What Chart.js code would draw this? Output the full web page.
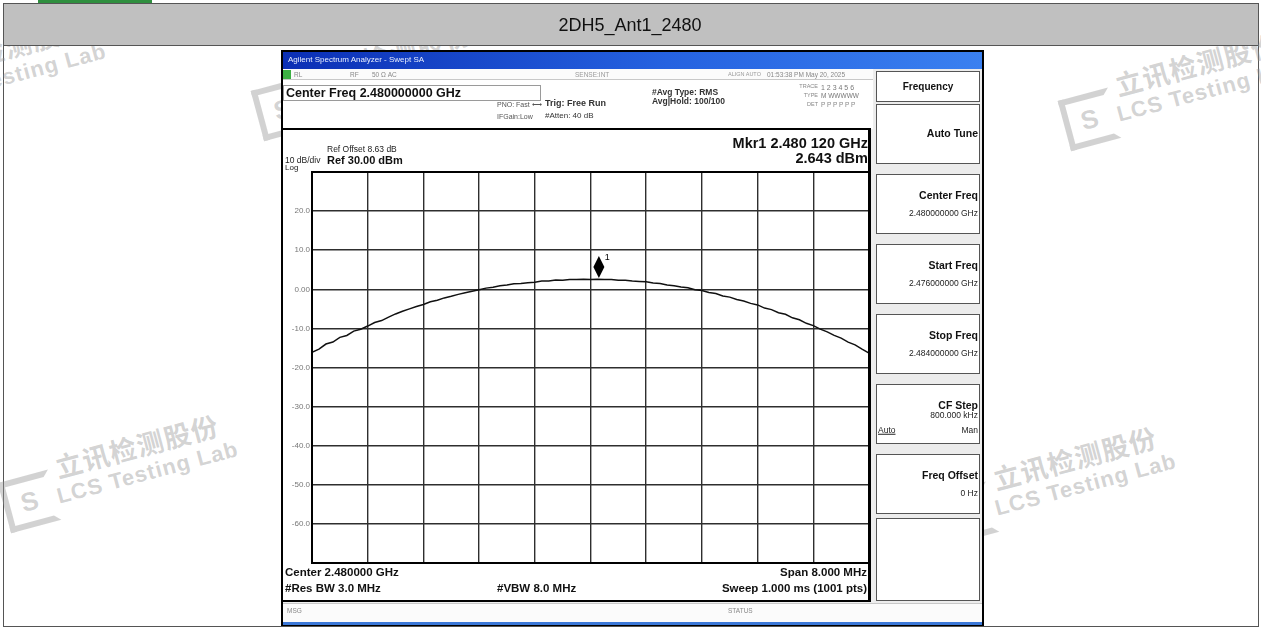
<!DOCTYPE html>
<html>
<head>
<meta charset="utf-8">
<script src="https://cdn.jsdelivr.net/npm/chart.js@4.4.0/dist/chart.umd.min.js"></script>
<style>
body { margin:0; background:#fff; font-family:"Liberation Sans", Arial, sans-serif; }
#page { position:relative; width:1261px; height:630px; overflow:hidden; background:#fff; }
.box { position:absolute; box-sizing:border-box; }
.t { position:absolute; white-space:nowrap; line-height:1; color:#111; }
.layer { position:absolute; left:0; top:0; width:1261px; height:630px; }
.wm { position:absolute; transform-origin:0 0; transform:rotate(-15deg); color:rgba(150,150,150,0.42); font-weight:bold; white-space:nowrap; }
.wm .l1 { position:absolute; left:0; top:0; font-family:"Noto Sans CJK SC", sans-serif; font-size:27px; line-height:1; letter-spacing:1px; }
.wm .l2 { position:absolute; left:-6px; top:32px; font-size:22px; line-height:1; letter-spacing:1px; }
.wm .logo { position:absolute; left:-60px; top:14px; width:40px; height:40px; border:6px solid rgba(150,150,150,0.42); border-right-color:transparent; font-size:26px; line-height:40px; text-align:center; }
</style>
</head>
<body>
<div id="page">
  <div class="box" style="left:38px;top:0;width:114px;height:3px;background:#2f8f3f;"></div>
  <div class="box" style="left:3px;top:3px;width:1256px;height:624px;border:1px solid #555;"></div>

  <div class="layer" id="wmLayer"></div>

  <div class="layer" id="saLayer">
    <div class="box" style="left:281px;top:50px;width:703px;height:576px;background:#000;"></div>
    <div class="box" style="left:283px;top:52px;width:699px;height:17px;background:linear-gradient(to right,#0b2fb5,#2562e0 55%,#3a80f0);"></div>
    <div class="box" style="left:283px;top:69px;width:699px;height:554px;background:#eeeeee;"></div>
    <div class="box" style="left:283px;top:69px;width:590px;height:11px;background:#fbfbfb;border-bottom:1px solid #c8c8c8;"></div>
    <div class="box" style="left:283px;top:70px;width:8px;height:9px;background:#3cb043;"></div>
    <div class="box" style="left:283px;top:80px;width:590px;height:49px;background:#fff;"></div>
    <div class="box" style="left:283px;top:85px;width:258px;height:16px;border:1px solid #9a9a9a;background:#fff;"></div>
    <div class="box" style="left:283px;top:128px;width:588px;height:45px;background:#fff;border-top:2px solid #000;border-right:3px solid #000;"></div>
    <div class="box" style="left:283px;top:172px;width:588px;height:392px;background:#fff;border-right:3px solid #000;"></div>
    <div class="box" style="left:283px;top:563px;width:588px;height:39px;background:#fff;border-right:3px solid #000;border-bottom:2px solid #000;"></div>
    <div class="box" style="left:283px;top:603px;width:699px;height:19px;background:#fbfbfb;border-top:1px solid #c8c8c8;"></div>
    <div class="box" style="left:283px;top:622px;width:699px;height:3px;background:#3b78d8;"></div>
    <div class="box" style="left:874px;top:69px;width:108px;height:534px;background:#ececec;"></div>
    <canvas id="trace" width="586" height="407" style="position:absolute;left:283px;top:164px;width:586px;height:407px;"></canvas>
  </div>

  <div class="layer" id="textLayer"></div>

  <div class="box" style="left:4px;top:4px;width:1254px;height:42px;background:#c0c0c0;border-bottom:1px solid #555;"></div>
  <div class="t" style="left:630px;top:25px;transform:translate(-50%,-50%);font-size:18px;">2DH5_Ant1_2480</div>
</div>

<script>
// sweep 2.476 - 2.484 GHz, 0.1 MHz steps
const freqGHz = [
  2.4760, 2.4761, 2.4762, 2.4763, 2.4764, 2.4765, 2.4766, 2.4767, 2.4768, 2.4769,
  2.4770, 2.4771, 2.4772, 2.4773, 2.4774, 2.4775, 2.4776, 2.4777, 2.4778, 2.4779,
  2.4780, 2.4781, 2.4782, 2.4783, 2.4784, 2.4785, 2.4786, 2.4787, 2.4788, 2.4789,
  2.4790, 2.4791, 2.4792, 2.4793, 2.4794, 2.4795, 2.4796, 2.4797, 2.4798, 2.4799,
  2.4800,
  2.4801, 2.4802, 2.4803, 2.4804, 2.4805, 2.4806, 2.4807, 2.4808, 2.4809, 2.4810,
  2.4811, 2.4812, 2.4813, 2.4814, 2.4815, 2.4816, 2.4817, 2.4818, 2.4819, 2.4820,
  2.4821, 2.4822, 2.4823, 2.4824, 2.4825, 2.4826, 2.4827, 2.4828, 2.4829, 2.4830,
  2.4831, 2.4832, 2.4833, 2.4834, 2.4835, 2.4836, 2.4837, 2.4838, 2.4839, 2.4840
];
const levelDbm = [
  -16.1, -15.3, -14.0, -13.5, -12.3, -11.8, -10.7, -10.2, -9.4, -8.5,
  -8.0, -7.1, -6.3, -5.6, -5.0, -4.4, -3.9, -3.2, -2.8, -2.2,
  -1.8, -1.3, -0.9, -0.5, -0.1, 0.3, 0.5, 0.9, 1.1, 1.4,
  1.5, 1.7, 1.8, 2.1, 2.1, 2.4, 2.3, 2.5, 2.5, 2.6,
  2.5,
  2.6, 2.5, 2.5, 2.3, 2.3, 2.1, 2.0, 1.9, 1.6, 1.5,
  1.1, 0.9, 0.6, 0.4, -0.1, -0.3, -0.8, -1.1, -1.7, -2.0,
  -2.6, -3.0, -3.6, -4.0, -4.8, -5.2, -6.0, -6.4, -7.3, -7.8,
  -8.7, -9.3, -10.2, -10.9, -11.8, -12.5, -13.5, -14.2, -15.3, -16.3
];
const markerFreqGHz = 2.48012;
const markerDbm = 2.643;

const startGHz = 2.476;
const stopGHz = 2.484;
const xGridGHz = [2.4760, 2.4768, 2.4776, 2.4784, 2.4792, 2.4800, 2.4808, 2.4816, 2.4824, 2.4832, 2.4840];
const yGridDbm = [30, 20, 10, 0, -10, -20, -30, -40, -50, -60, -70];
const yTickLabels = ['', '20.0', '10.0', '0.00', '-10.0', '-20.0', '-30.0', '-40.0', '-50.0', '-60.0', ''];

// marker 1 diamond sitting on the trace
const markerPlugin = {
  id: 'marker1',
  afterDatasetsDraw(chart) {
    const c = chart.ctx;
    const x = chart.scales.x.getPixelForValue(markerFreqGHz);
    const y = chart.scales.y.getPixelForValue(markerDbm) - 1;
    c.save();
    c.fillStyle = '#000';
    c.beginPath();
    c.moveTo(x, y);
    c.lineTo(x - 5.5, y - 11);
    c.lineTo(x, y - 22);
    c.lineTo(x + 5.5, y - 11);
    c.closePath();
    c.fill();
    c.font = '9px "Liberation Sans", Arial';
    c.fillText('1', x + 6, y - 18);
    c.restore();
  }
};

const framePlugin = {
  id: 'frame',
  afterDraw(chart) {
    const a = chart.chartArea;
    const c = chart.ctx;
    c.save();
    c.strokeStyle = '#000';
    c.lineWidth = 2;
    c.strokeRect(a.left, a.top, a.right - a.left, a.bottom - a.top);
    c.restore();
  }
};

const ctx = document.getElementById('trace').getContext('2d');
const traceChart = new Chart(ctx, {
  type: 'line',
  data: {
    datasets: [{
      data: freqGHz.map((f, i) => ({ x: f, y: levelDbm[i] })),
      borderColor: '#111',
      borderWidth: 1.5,
      pointRadius: 0,
      tension: 0
    }]
  },
  options: {
    responsive: false,
    animation: false,
    events: [],
    layout: { padding: { top: 8, bottom: 8, left: 0, right: 0 } },
    plugins: { legend: { display: false }, tooltip: { enabled: false } },
    scales: {
      x: {
        type: 'linear',
        min: startGHz,
        max: stopGHz,
        afterBuildTicks: s => { s.ticks = xGridGHz.map(v => ({ value: v })); },
        afterFit: s => { s.height = 0; },
        ticks: { display: false },
        grid: { color: '#2e2e2e', lineWidth: 1.4, drawTicks: false },
        border: { color: '#000', width: 2 }
      },
      y: {
        min: -70,
        max: 30,
        afterBuildTicks: s => { s.ticks = yGridDbm.map(v => ({ value: v })); },
        afterFit: s => { s.width = 29; },
        ticks: {
          callback: (v, i) => yTickLabels[yGridDbm.indexOf(v)],
          font: { size: 8, family: '"Liberation Sans", Arial' },
          color: '#777',
          padding: 2
        },
        grid: { color: '#2e2e2e', lineWidth: 1.4, drawTicks: false },
        border: { color: '#000', width: 2 }
      }
    }
  },
  plugins: [markerPlugin, framePlugin]
});

// text on the analyzer screen
var textLayer = document.getElementById('textLayer');
function put(parent, txt, x, y, size, opts) {
  opts = opts || {};
  var el = document.createElement('div');
  el.className = 't';
  el.textContent = txt;
  el.style.fontSize = size + 'px';
  el.style.left = x + 'px';
  el.style.top = y + 'px';
  if (opts.align === 'right') el.style.transform = 'translate(-100%,-50%)';
  else if (opts.align === 'center') el.style.transform = 'translate(-50%,-50%)';
  else el.style.transform = 'translateY(-50%)';
  if (opts.bold) el.style.fontWeight = 'bold';
  if (opts.color) el.style.color = opts.color;
  if (opts.under) el.style.textDecoration = 'underline';
  parent.appendChild(el);
  return el;
}

put(textLayer, 'Agilent Spectrum Analyzer - Swept SA', 288, 60, 8, { color: '#e8eeff' });
put(textLayer, 'RL', 294, 74.5, 6.5, { color: '#888' });
put(textLayer, 'RF', 350, 74.5, 6.5, { color: '#888' });
put(textLayer, '50 Ω  AC', 372, 74.5, 6.5, { color: '#888' });
put(textLayer, 'SENSE:INT', 575, 74.5, 6.5, { color: '#999' });
put(textLayer, 'ALIGN AUTO', 728, 74.5, 5.5, { color: '#999' });
put(textLayer, '01:53:38 PM May 20, 2025', 767, 74.5, 6.5, { color: '#888' });

put(textLayer, 'Center Freq 2.480000000 GHz', 286, 93, 12.5, { bold: true });
put(textLayer, 'PNO: Fast  ⟷', 497, 104, 7, { color: '#555' });
put(textLayer, 'IFGain:Low', 497, 116, 7, { color: '#555' });
put(textLayer, 'Trig: Free Run', 545, 103, 9, { bold: true, color: '#333' });
put(textLayer, '#Atten: 40 dB', 545, 116, 8, { color: '#333' });
put(textLayer, '#Avg Type: RMS', 652, 92, 8.5, { bold: true, color: '#333' });
put(textLayer, 'Avg|Hold: 100/100', 652, 101, 8.5, { bold: true, color: '#333' });
put(textLayer, 'TRACE', 818, 87, 5.5, { align: 'right', color: '#888' });
put(textLayer, '1 2 3 4 5 6', 821, 87, 7, { color: '#777' });
put(textLayer, 'TYPE', 818, 96, 5.5, { align: 'right', color: '#888' });
put(textLayer, 'M WWWWW', 821, 96, 6.5, { color: '#777' });
put(textLayer, 'DET', 818, 105, 5.5, { align: 'right', color: '#888' });
put(textLayer, 'P P P P P P', 821, 105, 6.5, { color: '#888' });

put(textLayer, 'Ref Offset 8.63 dB', 327, 149, 8.5, { color: '#222' });
put(textLayer, '10 dB/div', 285, 160, 8.5, { color: '#222' });
put(textLayer, 'Ref 30.00 dBm', 327, 160, 11, { bold: true });
put(textLayer, 'Log', 285, 168, 8, { color: '#222' });
put(textLayer, 'Mkr1 2.480 120 GHz', 868, 143, 14.5, { align: 'right', bold: true });
put(textLayer, '2.643 dBm', 868, 158, 14.5, { align: 'right', bold: true });

put(textLayer, 'Center 2.480000 GHz', 285, 573, 11.5, { bold: true });
put(textLayer, '#Res BW 3.0 MHz', 285, 589, 11.5, { bold: true });
put(textLayer, '#VBW 8.0 MHz', 497, 589, 11.5, { bold: true });
put(textLayer, 'Span 8.000 MHz', 867, 573, 11.5, { align: 'right', bold: true });
put(textLayer, 'Sweep  1.000 ms (1001 pts)', 867, 589, 11.5, { align: 'right', bold: true });
put(textLayer, 'MSG', 287, 611, 6.5, { color: '#888' });
put(textLayer, 'STATUS', 728, 611, 6.5, { color: '#888' });

// softkeys
function softkey(top, height, title, value) {
  var k = document.createElement('div');
  k.className = 'box';
  k.style.cssText = 'left:876px;top:' + top + 'px;width:104px;height:' + height + 'px;background:#fff;border:1px solid #555;';
  textLayer.appendChild(k);
  if (title) put(textLayer, title, 978, top + 21, 10.5, { align: 'right', bold: true });
  if (value) put(textLayer, value, 978, top + 39, 8.5, { align: 'right', color: '#222' });
}
var fk = document.createElement('div');
fk.className = 'box';
fk.style.cssText = 'left:876px;top:71px;width:104px;height:31px;background:#fff;border:1px solid #555;';
textLayer.appendChild(fk);
put(textLayer, 'Frequency', 928, 87, 10, { align: 'center', bold: true });
softkey(104, 60, '', '');
put(textLayer, 'Auto Tune', 978, 133, 10.5, { align: 'right', bold: true });
softkey(174, 60, 'Center Freq', '2.480000000 GHz');
softkey(244, 60, 'Start Freq', '2.476000000 GHz');
softkey(314, 60, 'Stop Freq', '2.484000000 GHz');
softkey(384, 60, 'CF Step', '');
put(textLayer, '800.000 kHz', 978, 415, 8.5, { align: 'right', color: '#222' });
put(textLayer, 'Auto', 878, 430, 8.5, { under: true, color: '#222' });
put(textLayer, 'Man', 978, 430, 8.5, { align: 'right', color: '#222' });
softkey(454, 60, 'Freq Offset', '0 Hz');
softkey(518, 83, '', '');

// watermarks
var wmLayer = document.getElementById('wmLayer');
function watermark(x, y) {
  var w = document.createElement('div');
  w.className = 'wm';
  w.style.left = x + 'px';
  w.style.top = y + 'px';
  w.innerHTML = '<div class="logo">S</div><div class="l1">立讯检测股份</div><div class="l2">LCS Testing Lab</div>';
  wmLayer.appendChild(w);
}
watermark(-80, 56);
watermark(1112, 72);
watermark(52, 454);
watermark(990, 466);
watermark(305, 62);
</script>
</body>
</html>
